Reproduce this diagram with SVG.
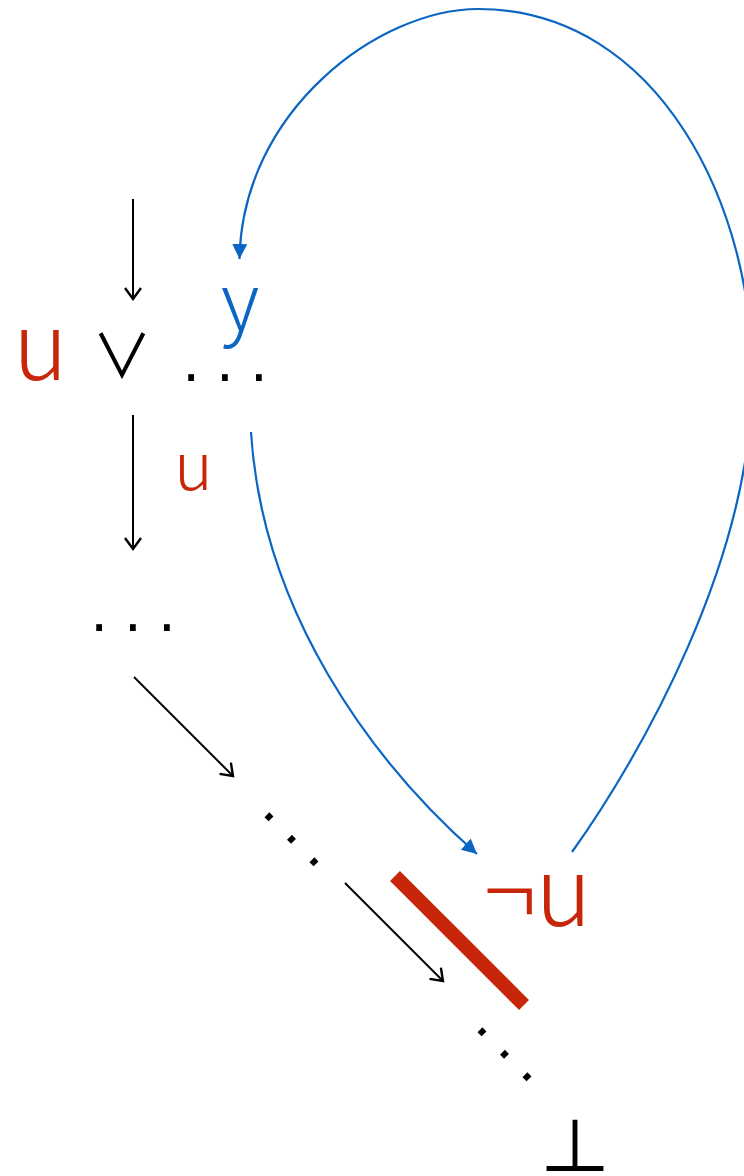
<svg xmlns="http://www.w3.org/2000/svg" width="744" height="1176" viewBox="0 0 744 1176">
<style>
.red{fill:#c8260a}
.blk{fill:#000}
.blu{fill:#0a66c2}
.t{font-family:"Noto Sans CJK JP","Open Sans",sans-serif;font-weight:300}
.r{font-weight:400}
.d{font-family:"DejaVu Sans",sans-serif}
.arr{stroke:#000;stroke-width:2;fill:none}
.barr{stroke:#0a66c2;stroke-width:2.2;fill:none}
</style>
<defs>
<marker id="open" markerUnits="userSpaceOnUse" markerWidth="30" markerHeight="30" viewBox="-15 -15 30 30" refX="0" refY="0" orient="auto">
<path d="M-11,-8 L0,0 L-11,8" fill="none" stroke="#000" stroke-width="2.4"/>
</marker>
<marker id="tri" markerUnits="userSpaceOnUse" markerWidth="30" markerHeight="30" viewBox="-15 -15 30 30" refX="0" refY="0" orient="auto">
<path d="M-15,-7.5 L0,0 L-15,7.5 Z" fill="#0a66c2"/>
</marker>
</defs>
<g id="connectors">
<path class="arr" d="M133,199 L133,299" marker-end="url(#open)"/>
<path class="arr" d="M133,415 L133,549" marker-end="url(#open)"/>
<path class="arr" d="M134,677 L233,776" marker-end="url(#open)"/>
<path class="arr" d="M345,883 L443,981" marker-end="url(#open)"/>
<path class="barr" d="M572,852 C640,757 752,560 752,380 C755,210 660,9 478,9 C380,9 242,110 239.5,259" marker-end="url(#tri)"/>
<path class="barr" d="M251,432 C262,610 370,760 477,854" marker-end="url(#tri)"/>
</g>
<g id="u-or">
<text class="t red" x="13" y="380" font-size="93">u</text>
<text class="t r blk" x="122" y="378" font-size="60" text-anchor="middle">∨</text>
<text class="d blk" x="233" y="381" font-size="56" letter-spacing="16" text-anchor="middle">...</text>
</g>
<g id="y-label"><text class="t blu" x="221" y="330" font-size="78">y</text></g>
<g id="u-label"><text class="t red" x="174" y="490" font-size="66">u</text></g>
<g id="dots2"><text class="d blk" x="141" y="631" font-size="56" letter-spacing="16" text-anchor="middle">...</text></g>
<g id="dots3"><text class="d blk" x="4" y="4" font-size="56" letter-spacing="14" text-anchor="middle" transform="translate(294,841) rotate(45)">...</text></g>
<g id="neg-u"><text class="t red" x="484" y="926" font-size="96">¬u</text></g>
<g id="cut"><line x1="395" y1="876" x2="524" y2="1005" stroke="#c8260a" stroke-width="14"/></g>
<g id="dots4"><text class="d blk" x="4" y="4" font-size="56" letter-spacing="14" text-anchor="middle" transform="translate(507,1056) rotate(45)">...</text></g>
<g id="bottom"><text class="t r blk" x="575" y="1173" font-size="72" text-anchor="middle">⊥</text></g>
</svg>
